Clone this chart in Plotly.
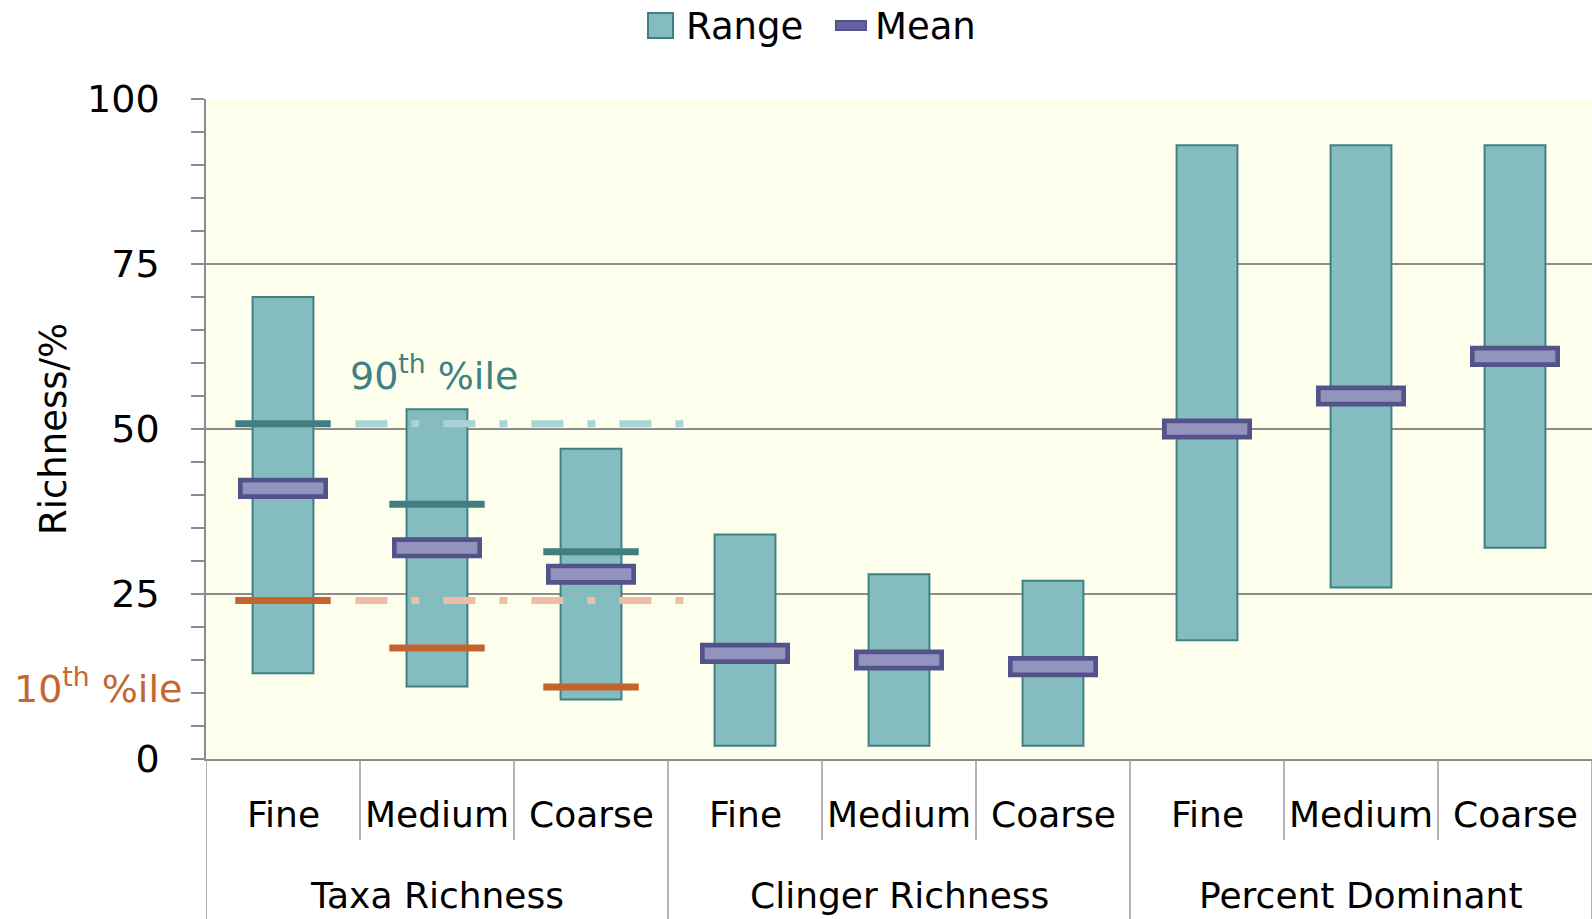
import plotly.graph_objects as go

# ---- data -------------------------------------------------------------
groups = ["Taxa Richness", "Clinger Richness", "Percent Dominant"]
sizes = ["Fine", "Medium", "Coarse"]

range_low = [13, 11, 9, 2, 2, 2, 18, 26, 32]
range_high = [70, 53, 47, 34, 28, 27, 93, 93, 93]
mean_vals = [41, 32, 28, 16, 15, 14, 50, 55, 61]

# percentile markers for the Taxa Richness group
p90_vals = [50.8, 38.6, 31.4]
p10_vals = [24.0, 16.8, 10.9]
p90_ref = 50.8
p10_ref = 24.0

y_ticks = [0, 25, 50, 75, 100]

# ---- styling ----------------------------------------------------------
FONT = "DejaVu Sans"
BAR_FILL, BAR_EDGE = "#84BCBF", "#3F8084"
MEAN_FILL, MEAN_EDGE = "#9394BE", "#53528A"
P90_COL, P10_COL = "#417E80", "#C3632D"
P90_LIGHT, P10_LIGHT = "#A9D2D5", "#EBBEA5"
AXIS_COL = "#8C8C8C"

W, H = 1592, 919
M_L, M_R, M_T, M_B = 206, 0, 99, 160
PW, PH = W - M_L - M_R, H - M_T - M_B


def px_x(px):
    return (px - M_L) / PW


def px_y(py):
    return (H - M_B - py) / PH


xs = list(range(len(range_low)))
MEAN_HALF = 1.24  # half thickness of a mean marker, in axis units

fig = go.Figure()

fig.add_trace(go.Bar(
    x=xs, base=range_low,
    y=[h - l for l, h in zip(range_low, range_high)],
    width=0.395,
    marker=dict(color=BAR_FILL, line=dict(color=BAR_EDGE, width=2)),
    name="Range", showlegend=False,
))

fig.add_trace(go.Bar(
    x=xs, base=[m - MEAN_HALF for m in mean_vals],
    y=[2 * MEAN_HALF] * len(mean_vals),
    width=0.554,
    marker=dict(color=MEAN_FILL, line=dict(color=MEAN_EDGE, width=4.7)),
    name="Mean", showlegend=False,
))

# dashed reference levels across the Medium and Coarse columns
for val, col in [(p90_ref, P90_LIGHT), (p10_ref, P10_LIGHT)]:
    fig.add_trace(go.Scatter(
        x=[0.47, 2.6], y=[val, val], mode="lines",
        line=dict(color=col, width=7, dash="32px,24px,8px,24px"),
        showlegend=False, hoverinfo="skip",
    ))


def seg_lines(vals, half=0.31):
    sx, sy = [], []
    for i, v in enumerate(vals):
        sx += [i - half, i + half, None]
        sy += [v, v, None]
    return sx, sy


for vals, col in [(p90_vals, P90_COL), (p10_vals, P10_COL)]:
    sx, sy = seg_lines(vals)
    fig.add_trace(go.Scatter(
        x=sx, y=sy, mode="lines",
        line=dict(color=col, width=7),
        showlegend=False, hoverinfo="skip",
    ))

shapes = []
annotations = []

# category dividers below the x axis
for k in range(len(xs) + 1):
    outer = k % 3 == 0
    shapes.append(dict(
        type="line", xref="x", yref="paper",
        x0=k - 0.5, x1=k - 0.5, y0=0, y1=px_y(H if outer else 840),
        line=dict(color="#9A9A9A", width=1.5),
    ))

# category labels
for i in xs:
    annotations.append(dict(
        x=i, y=px_y(814), xref="x", yref="paper", showarrow=False,
        text=sizes[i % 3], font=dict(family=FONT, size=36, color="black"),
        xanchor="center", yanchor="middle",
    ))
for g, name in enumerate(groups):
    annotations.append(dict(
        x=3 * g + 1, y=px_y(895), xref="x", yref="paper", showarrow=False,
        text=name, font=dict(family=FONT, size=36, color="black"),
        xanchor="center", yanchor="middle",
    ))

# axis title
annotations.append(dict(
    x=px_x(53), y=0.5, xref="paper", yref="paper", showarrow=False,
    text="Richness/%", textangle=-90,
    font=dict(family=FONT, size=37, color="black"),
    xanchor="center", yanchor="middle",
))

# percentile captions
annotations.append(dict(
    x=0.42, y=58.5, xref="x", yref="y", showarrow=False,
    text="90<sup>th</sup> %ile", font=dict(family=FONT, size=38, color="#3F8084"),
    xanchor="left", yanchor="middle",
))
annotations.append(dict(
    x=px_x(184), y=11.0, xref="paper", yref="y", showarrow=False,
    text="10<sup>th</sup> %ile", font=dict(family=FONT, size=38, color="#C4662F"),
    xanchor="right", yanchor="middle",
))

# legend
shapes.append(dict(
    type="rect", xref="paper", yref="paper",
    x0=px_x(648), x1=px_x(673), y0=px_y(38), y1=px_y(13),
    fillcolor=BAR_FILL, line=dict(color=BAR_EDGE, width=2),
))
annotations.append(dict(
    x=px_x(684), y=px_y(26), xref="paper", yref="paper", showarrow=False,
    text="Range", font=dict(family=FONT, size=37, color="black"),
    xanchor="left", yanchor="middle",
))
shapes.append(dict(
    type="rect", xref="paper", yref="paper",
    x0=px_x(836), x1=px_x(866), y0=px_y(30), y1=px_y(21),
    fillcolor="#6462A0", line=dict(color=MEAN_EDGE, width=2),
))
annotations.append(dict(
    x=px_x(873), y=px_y(26), xref="paper", yref="paper", showarrow=False,
    text="Mean", font=dict(family=FONT, size=37, color="black"),
    xanchor="left", yanchor="middle",
))

fig.update_layout(
    width=W, height=H,
    margin=dict(l=M_L, r=M_R, t=M_T, b=M_B),
    paper_bgcolor="white", plot_bgcolor="#FEFEEC",
    barmode="overlay", showlegend=False,
    font=dict(family=FONT, color="black"),
    shapes=shapes, annotations=annotations,
)

fig.update_xaxes(
    range=[-0.5, 8.5], showticklabels=False, ticks="",
    showgrid=False, zeroline=False,
    showline=True, linecolor=AXIS_COL, linewidth=1.5,
)

fig.update_yaxes(
    range=[0, 100], tickvals=y_ticks, ticktext=[str(v) for v in y_ticks],
    tickfont=dict(family=FONT, size=38, color="black"),
    ticks="outside", ticklen=13, tickwidth=1.5, tickcolor=AXIS_COL,
    ticklabelstandoff=24,
    minor=dict(dtick=5, ticks="outside", ticklen=13, tickwidth=1.5,
               tickcolor=AXIS_COL, showgrid=False),
    showgrid=True, gridcolor=AXIS_COL, gridwidth=1.5,
    zeroline=False,
    showline=True, linecolor=AXIS_COL, linewidth=1.5,
)

fig.write_html("out.html")
